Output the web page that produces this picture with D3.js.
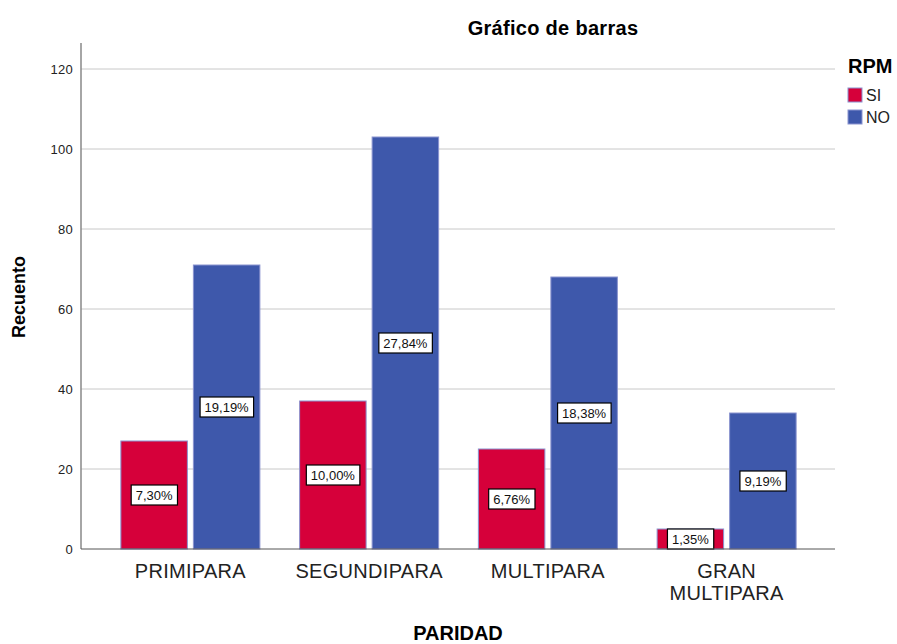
<!DOCTYPE html>
<html>
<head>
<meta charset="utf-8">
<script src="https://cdn.jsdelivr.net/npm/d3@7"></script>
<style>
  body { margin: 0; background: #fff; }
  text { font-family: Arial, "Liberation Sans", sans-serif; }
</style>
</head>
<body>
<div id="chart"></div>
<script>
// categories and series
const categories = ["PRIMIPARA", "SEGUNDIPARA", "MULTIPARA", "GRAN MULTIPARA"]
const groups = ["SI", "NO"]
const siCounts = [27, 37, 25, 5]
const noCounts = [71, 103, 68, 34]
const siLabels = ["7,30%", "10,00%", "6,76%", "1,35%"]
const noLabels = ["19,19%", "27,84%", "18,38%", "9,19%"]
const yTicks = [0, 20, 40, 60, 80, 100, 120]

const colors = { SI: "#d6003a", NO: "#3e58ab" }

const width = 897, height = 644
const margin = { left: 81, top: 43, right: 62, bottom: 95 }

const svg = d3.select("#chart").append("svg")
    .attr("width", width)
    .attr("height", height)

const y = d3.scaleLinear()
    .domain([0, 120])
    .range([549, 69])

const x0 = d3.scaleBand()
    .domain(categories)
    .range([101, 816])

const groupW = 139
const x1 = d3.scaleBand()
    .domain(groups)
    .range([(x0.bandwidth() - groupW) / 2, (x0.bandwidth() + groupW) / 2])
    .paddingInner(0.083)

// grid
svg.append("g")
    .selectAll("line")
    .data(yTicks.slice(1))
    .enter()
    .append("line")
    .attr("x1", margin.left)
    .attr("x2", width - margin.right)
    .attr("y1", d => y(d))
    .attr("y2", d => y(d))
    .attr("stroke", "#c8c8c8")
    .attr("stroke-width", 1)

// y axis
const yAxis = d3.axisLeft(y).tickValues(yTicks).tickSize(0).tickPadding(8)
const yG = svg.append("g")
    .attr("transform", `translate(${margin.left},0)`)
    .call(yAxis)
yG.select(".domain").remove()
yG.selectAll(".tick text")
    .attr("font-size", 13)
    .attr("letter-spacing", 0.3)
    .attr("fill", "#222")
svg.append("line")
    .attr("x1", margin.left).attr("x2", margin.left)
    .attr("y1", margin.top).attr("y2", y(0))
    .attr("stroke", "#888").attr("stroke-width", 1.5)

// bars
const rows = categories.map((c, i) => ({
    cat: c,
    vals: [
        { key: "SI", v: siCounts[i], label: siLabels[i] },
        { key: "NO", v: noCounts[i], label: noLabels[i] },
    ]
}))

const cat = svg.append("g")
    .selectAll("g")
    .data(rows)
    .enter()
    .append("g")
    .attr("transform", d => `translate(${x0(d.cat)},0)`)

cat.selectAll("rect")
    .data(d => d.vals)
    .enter()
    .append("rect")
    .attr("x", d => x1(d.key))
    .attr("width", x1.bandwidth())
    .attr("y", d => y(d.v))
    .attr("height", d => y(0) - y(d.v))
    .attr("fill", d => colors[d.key])
    .attr("stroke", "#8a93cf")
    .attr("stroke-width", 1)

// percentage labels
const lab = cat.selectAll("g.lab")
    .data(d => d.vals)
    .enter()
    .append("g")
    .attr("class", "lab")
    .attr("transform", d => `translate(${x1(d.key) + x1.bandwidth() / 2},${(y(d.v) + y(0)) / 2})`)

lab.append("text")
    .attr("text-anchor", "middle")
    .attr("dy", "0.36em")
    .attr("font-size", 13)
    .attr("fill", "#111")
    .text(d => d.label)

lab.each(function () {
    const g = d3.select(this)
    const bb = g.select("text").node().getBBox()
    g.insert("rect", "text")
        .attr("x", bb.x - 4.5)
        .attr("y", -10)
        .attr("width", bb.width + 9)
        .attr("height", 20)
        .attr("fill", "#fff")
        .attr("stroke", "#000")
        .attr("stroke-width", 1.2)
})

// x axis
svg.append("line")
    .attr("x1", margin.left).attr("x2", width - margin.right)
    .attr("y1", y(0)).attr("y2", y(0))
    .attr("stroke", "#555").attr("stroke-width", 1)

const xt = svg.append("g")
    .selectAll("text")
    .data(categories)
    .enter()
    .append("text")
    .attr("x", d => x0(d) + x0.bandwidth() / 2)
    .attr("y", 578)
    .attr("text-anchor", "middle")
    .attr("font-size", 20)
    .attr("letter-spacing", 0.3)
    .attr("fill", "#222")
xt.each(function (d) {
    const t = d3.select(this)
    const words = d === "GRAN MULTIPARA" ? ["GRAN", "MULTIPARA"] : [d]
    words.forEach((w, i) => {
        t.append("tspan")
            .attr("x", x0(d) + x0.bandwidth() / 2)
            .attr("dy", i === 0 ? 0 : 22)
            .text(w)
    })
})

// titles
svg.append("text")
    .attr("x", 553).attr("y", 35)
    .attr("text-anchor", "middle")
    .attr("font-size", 20).attr("font-weight", "bold")
    .attr("letter-spacing", 0.3)
    .text("Gráfico de barras")

svg.append("text")
    .attr("transform", `translate(25,297) rotate(-90)`)
    .attr("text-anchor", "middle")
    .attr("font-size", 18).attr("font-weight", "bold")
    .text("Recuento")

svg.append("text")
    .attr("x", 458).attr("y", 640)
    .attr("text-anchor", "middle")
    .attr("font-size", 20).attr("font-weight", "bold")
    .text("PARIDAD")

// legend
const legend = svg.append("g").attr("transform", "translate(848,0)")
legend.append("text")
    .attr("x", 0).attr("y", 73)
    .attr("font-size", 20).attr("font-weight", "bold")
    .text("RPM")
const li = legend.selectAll("g.item")
    .data(groups)
    .enter()
    .append("g")
    .attr("class", "item")
    .attr("transform", (d, i) => `translate(0,${88 + i * 22})`)
li.append("rect")
    .attr("width", 14).attr("height", 14)
    .attr("fill", d => colors[d])
    .attr("stroke", "#8a93cf")
li.append("text")
    .attr("x", 18).attr("y", 13)
    .attr("font-size", 16)
    .attr("fill", "#222")
    .text(d => d)
</script>
</body>
</html>
